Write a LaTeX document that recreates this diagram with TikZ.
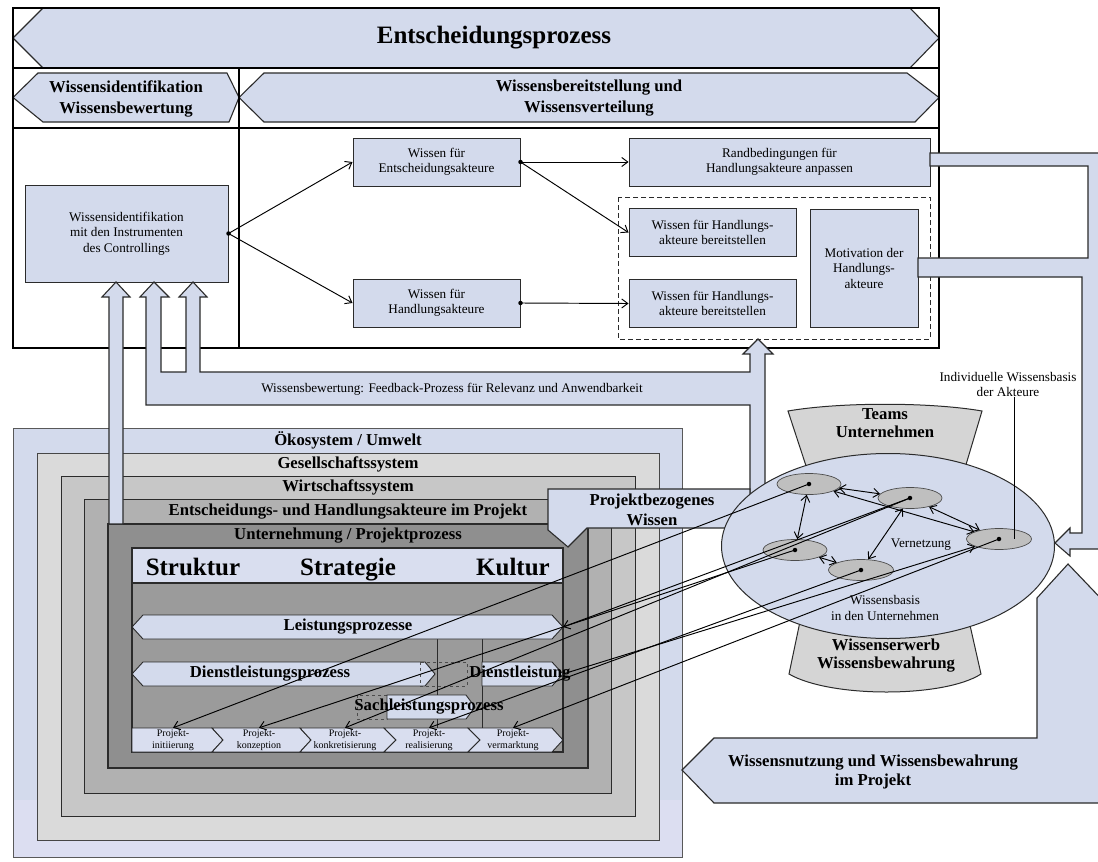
\documentclass[tikz,border=0pt]{standalone}
\usepackage{fontspec}
\setmainfont{Liberation Serif}
\usetikzlibrary{arrows.meta,shapes.geometric,calc}

\definecolor{paleblue}{HTML}{D3DAEC}
\definecolor{paleblueB}{HTML}{DCDEF1}
\definecolor{headblue}{HTML}{D9DEEF}
\definecolor{greyA}{HTML}{DADADA}
\definecolor{greyB}{HTML}{C7C7C7}
\definecolor{greyC}{HTML}{B1B1B1}
\definecolor{greyD}{HTML}{8F8F8F}
\definecolor{greyE}{HTML}{9B9B9B}
\definecolor{nodegrey}{HTML}{BFBFBF}
\definecolor{capgrey}{HTML}{D5D5D5}
\definecolor{edge}{HTML}{2B2B2B}

\newcommand\fTitle{\fontsize{25}{28}\selectfont\bfseries}
\newcommand\fHead{\fontsize{16.7}{19.5}\selectfont\bfseries}
\newcommand\fBody{\fontsize{13.2}{15.5}\selectfont}
\newcommand\fTiny{\fontsize{10}{12.5}\selectfont}

\tikzset{
  card/.style={draw=edge, line width=1pt, fill=paleblue, inner sep=0pt, align=center, font=\fBody},
  band/.style={draw=edge, line width=1.1pt, fill=paleblue, line join=miter},
  layer/.style={draw=edge, line width=1pt},
  txt/.style={inner sep=0pt, align=center},
  chev/.style={draw=edge, line width=0.9pt, fill=headblue},
  conn/.style={draw=black, line width=0.95pt, -{Straight Barb[length=6pt,width=9pt]}},
  dconn/.style={draw=black, line width=0.95pt, {Straight Barb[length=6pt,width=9pt]}-{Straight Barb[length=6pt,width=9pt]}},
  blob/.style={circle, fill=black, inner sep=0pt, minimum size=4.5pt},
  actor/.style={ellipse, draw=gray!60!black, line width=0.7pt, fill=nodegrey, inner sep=0pt, minimum height=21pt},
}

\begin{document}
\begin{tikzpicture}[x=1pt,y=-1pt]
\useasboundingbox (0,0) rectangle (1098,862);
\fill[white] (0,0) rectangle (1098,862);
\clip (0,0) rectangle (1098,862);

% ===== nested environment layers =====
\fill[paleblue] (13,428) rectangle (682,800);
\fill[paleblueB] (13,800) rectangle (682,857);
\draw[gray!70!black, line width=0.8pt] (13,428) rectangle (682,857);
\draw[layer, fill=greyA, draw=gray!55!black] (37,453) rectangle (659,840);
\draw[layer, fill=greyB] (61,476) rectangle (635,816);
\draw[layer, fill=greyC] (84,499) rectangle (611,793);
\draw[layer, fill=greyD, line width=1.3pt] (108,524) rectangle (588,768);
\draw[layer, fill=greyE, line width=1.3pt] (132,548) rectangle (563,752);
\draw[layer, fill=headblue, line width=1.3pt] (132,548) rectangle (563,583);

\node[txt, font=\fHead] (envA) at (348,440.5) {Ökosystem / Umwelt};
\node[txt, font=\fHead] (envB) at (348,464.5) {Gesellschaftssystem};
\node[txt, font=\fHead] (envC) at (348,487.5) {Wirtschaftssystem};
\node[txt, font=\fHead] (envD) at (348,511.5) {Entscheidungs- und Handlungsakteure im Projekt};
\node[txt, font=\fHead] (envE) at (348,536) {Unternehmung / Projektprozess};
\node[txt, font=\fTitle, anchor=base] (hdA) at (193,575) {Struktur};
\node[txt, font=\fTitle, anchor=base] (hdB) at (348,575) {Strategie};
\node[txt, font=\fTitle, anchor=base] (hdC) at (513,575) {Kultur};

% process bands
\draw[edge, line width=1pt] (437,639) -- (437,728) (482,639) -- (482,728);
\draw[band, line width=0.9pt] (143,615) -- (552,615) -- (563,627) -- (552,639) -- (143,639) -- (132,627) -- cycle;
\draw[band, line width=0.9pt] (143,662) -- (425,662) -- (435,674) -- (425,686) -- (143,686) -- (132,674) -- cycle;
\draw[gray!60!black, dashed, line width=0.7pt] (420,662) rectangle (467,686);
\draw[band, line width=0.9pt] (482,662) -- (552,662) -- (563,674) -- (552,686) -- (482,686) -- cycle;
\draw[gray!60!black, dashed, line width=0.7pt] (357,695) rectangle (387,719);
\draw[band, line width=0.9pt] (387,695) -- (466,695) -- (475,707) -- (466,719) -- (387,719) -- cycle;
\node[txt, font=\fHead] (pL) at (348,627) {Leistungsprozesse};
\node[txt, font=\fHead] (pD) at (270,674) {Dienstleistungsprozess};
\node[txt, font=\fHead] (pE) at (520,674) {Dienstleistung};
\node[txt, font=\fHead] (pS) at (429,707) {Sachleistungsprozess};
\coordinate (lpTip) at (563,627);
\coordinate (dlTip) at (563,674);

% project phases
\draw[chev] (132,728) -- (212,728) -- (223,740) -- (212,752) -- (132,752) -- cycle;
\draw[chev] (212,728) -- (300,728) -- (311,740) -- (300,752) -- (212,752) -- (223,740) -- cycle;
\draw[chev] (300,728) -- (384,728) -- (396,740) -- (384,752) -- (300,752) -- (311,740) -- cycle;
\draw[chev] (384,728) -- (468,728) -- (480,740) -- (468,752) -- (384,752) -- (396,740) -- cycle;
\draw[chev] (468,728) -- (552,728) -- (563,740) -- (552,752) -- (468,752) -- (480,740) -- cycle;
\node[txt, font=\fTiny, minimum height=24pt] (c1) at (173,740) {Projekt-\\initiierung};
\node[txt, font=\fTiny, minimum height=24pt] (c2) at (259,740) {Projekt-\\konzeption};
\node[txt, font=\fTiny, minimum height=24pt] (c3) at (345,740) {Projekt-\\konkretisierung};
\node[txt, font=\fTiny, minimum height=24pt] (c4) at (429,740) {Projekt-\\realisierung};
\node[txt, font=\fTiny, minimum height=24pt] (c5) at (513,740) {Projekt-\\vermarktung};

% ===== upper frame =====
\draw[black, line width=1.8pt, fill=white] (13,8) rectangle (939,348);
\draw[band] (43,8) -- (910,8) -- (939,38) -- (910,68) -- (43,68) -- (13,38) -- cycle;
\draw[band] (38,73) -- (227,73) -- (239,97.5) -- (229,122) -- (43,122) -- (13,97.5) -- cycle;
\draw[band] (264,73) -- (907,73) -- (939,97.5) -- (915,122) -- (264,122) -- (239,97.5) -- cycle;
\draw[black, line width=1.5pt] (13,68) -- (939,68) (13,128) -- (939,128) (239,68) -- (239,348);
\draw[black, line width=1.8pt] (13,8) rectangle (939,348);
\node[txt, font=\fTitle] (title) at (494,38) {Entscheidungsprozess};
\node[txt, font=\fontsize{16.7}{21}\selectfont\bfseries] (hL) at (126,99) {Wissensidentifikation\\Wissensbewertung};
\node[txt, font=\fontsize{16.7}{21}\selectfont\bfseries] (hR) at (589,98) {Wissensbereitstellung und\\Wissensverteilung};

\node[card, minimum width=203pt, minimum height=97pt] (ctrl) at (126.5,233.5) {Wissensidentifikation\\mit den Instrumenten\\des Controllings};
\node[card, minimum width=167pt, minimum height=48pt] (ent) at (436.5,162) {Wissen für\\Entscheidungsakteure};
\node[card, minimum width=167pt, minimum height=48pt] (hand) at (436.5,303) {Wissen für\\Handlungsakteure};
\node[card, minimum width=301pt, minimum height=48pt] (rand) at (779.5,162) {Randbedingungen für\\Handlungsakteure anpassen};
\draw[edge, line width=1pt, dash pattern=on 5pt off 3pt] (618,197) rectangle (930,339);
\node[card, minimum width=167pt, minimum height=48pt] (bA) at (712.5,232.5) {Wissen für Handlungs-\\akteure bereitstellen};
\node[card, minimum width=167pt, minimum height=48pt] (bB) at (712.5,303.5) {Wissen für Handlungs-\\akteure bereitstellen};
\node[card, minimum width=108pt, minimum height=118pt] (motiv) at (864,268) {Motivation der\\Handlungs-\\akteure};

\draw[conn] (ctrl.east) -- (ent.west);
\draw[conn] (ctrl.east) -- (hand.west);
\draw[conn] (ent.east) -- (rand.west);
\draw[conn] (ent.east) -- (bA.west);
\draw[conn] (hand.east) -- (bB.west);
\node[blob] (s1) at (ctrl.east) {};
\node[blob] (s2) at (ent.east) {};
\node[blob] (s3) at (hand.east) {};

% ===== feedback arrows =====
\draw[band] (102,297) -- (116,282) -- (130,297) -- (123,297) -- (123,524) -- (109,524) -- (109,297) -- cycle;
\draw[band] (140,297) -- (154,282) -- (169,297) -- (161,297) -- (161,372) -- (186,372) -- (186,297) -- (179,297) -- (193,282) -- (207,297) -- (200,297) -- (200,372) -- (750,372) -- (750,354) -- (743,354) -- (758,339) -- (773,354) -- (765,354) -- (765,505) -- (750,505) -- (750,405) -- (146,405) -- (146,297) -- cycle;
\node[txt, font=\fBody] (fb) at (452,389) {Wissensbewertung: Feedback-Prozess für Relevanz und Anwendbarkeit};

% project knowledge callout
\draw[band] (548,489) -- (750,489) -- (750,528) -- (587,528) -- (568,547) -- (548,530) -- cycle;
\node[txt, font=\fontsize{16.7}{20}\selectfont\bfseries] (pw) at (652,510) {Projektbezogenes\\Wissen};

% right-hand return arrows
\draw[band] (930,153) -- (1105,153) -- (1105,549) -- (1070,549) -- (1070,556) -- (1055,543) -- (1070,528) -- (1070,533) -- (1082,533) -- (1082,277) -- (918,277) -- (918,258) -- (1088,258) -- (1088,166) -- (930,166) -- cycle;
\draw[band] (682,770) -- (714,738) -- (1037,738) -- (1037,598) -- (1068,564) -- (1110,608) -- (1110,803) -- (714,803) -- cycle;
\node[txt, font=\fontsize{16.7}{18.5}\selectfont\bfseries] (wn) at (873,772) {Wissensnutzung und Wissensbewahrung\\im Projekt};

% ===== knowledge base =====
\draw[draw=edge, line width=1pt, fill=capgrey] (788,411) .. controls (840,402) and (930,402) .. (982,411) -- (962,478) -- (810,478) -- cycle;
\draw[draw=edge, line width=1pt, fill=capgrey] (802,612) -- (789,674) .. controls (830,698) and (944,698) .. (981,674) -- (967,612) -- cycle;
\node[ellipse, draw=edge, line width=1pt, fill=paleblue, inner sep=0pt, minimum width=333pt, minimum height=185pt] (kb) at (888,546) {};
\node[txt, font=\fontsize{16.7}{18.5}\selectfont\bfseries] (teams) at (885,423) {Teams\\Unternehmen};
\node[txt, font=\fontsize{16.7}{18}\selectfont\bfseries] (erwerb) at (886,656) {Wissenserwerb\\Wissensbewahrung};
\node[txt, font=\fBody] (kbtxt) at (885,608) {Wissensbasis\\in den Unternehmen};
\node[txt, font=\fBody] (vern) at (921,545) {Vernetzung};

\node[actor, minimum width=64pt] (n1) at (809,484) {};
\node[actor, minimum width=64pt] (n2) at (910,498) {};
\node[actor, minimum width=64pt] (n3) at (795,550) {};
\node[actor, minimum width=65pt] (n4) at (861,570) {};
\node[actor, minimum width=65pt] (n5) at (999,539) {};

\draw[dconn] (n1) -- (n2);
\draw[dconn] (n1) -- (n3);
\draw[dconn] (n1) -- (n5);
\draw[dconn] (n2) -- (n5);
\draw[dconn] (n2) -- (n4);
\draw[dconn] (n3) -- (n4);

\node[txt, font=\fBody] (indiv) at (1008,384.5) {Individuelle Wissensbasis\\der Akteure};
\coordinate (n5mark) at (1014,539);
\draw[black, line width=0.8pt] (indiv.south -| n5mark) -- (n5mark);

% links between actors and the project process
\draw[conn] (n1.center) -- (c1.north);
\draw[conn] (n3.center) -- (c2.north);
\draw[conn] (n2.center) -- (c3.north);
\draw[conn] (n4.center) -- (c4.north);
\draw[conn] (n5.center) -- (c5.north);
\draw[conn] (n2.center) -- (lpTip);
\draw[conn] (dlTip) -- (n5);
\foreach \n in {n1,n2,n3,n4,n5} \node[blob] at (\n.center) {};
\end{tikzpicture}
\end{document}
